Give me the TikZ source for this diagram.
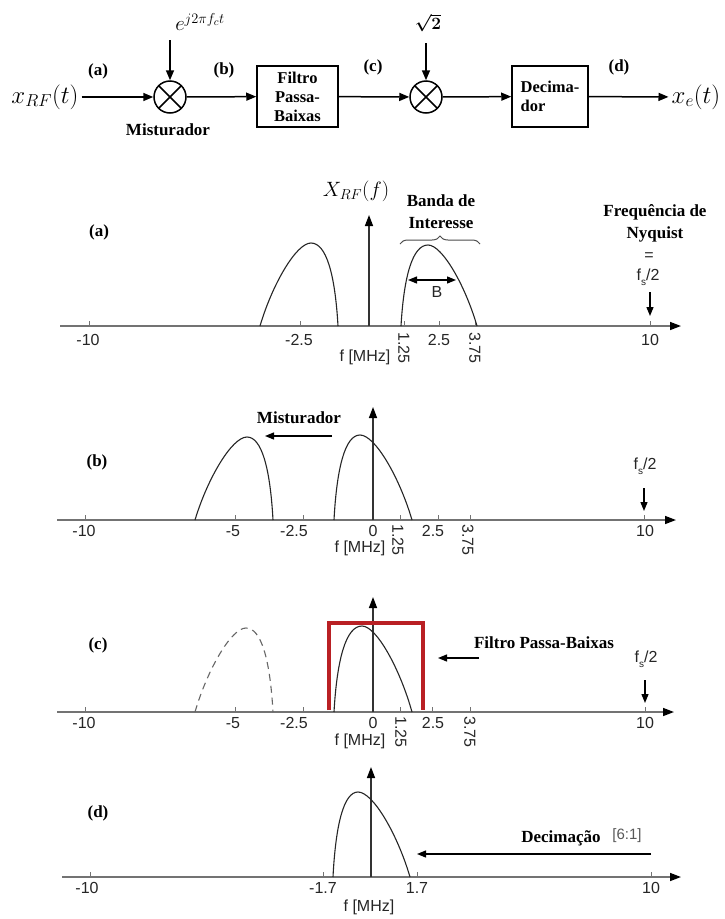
\documentclass[tikz,border=0pt]{standalone}
\usepackage{fontspec}
\setmainfont{Liberation Serif}
\newfontfamily\arialf{Liberation Sans}
\usetikzlibrary{arrows.meta,decorations.pathreplacing}
\definecolor{filtred}{RGB}{185,32,36}
\tikzset{
  lbl/.style={font=\fontsize{17}{22}\selectfont\bfseries, inner sep=0pt},
  blk/.style={draw, line width=1.5pt, font=\fontsize{16.5}{19}\selectfont\bfseries, inner sep=2pt},
  mix/.style={circle, draw, line width=1.5pt, minimum size=32pt, inner sep=0pt,
    path picture={\draw[line width=1.5pt] (path picture bounding box.south west) -- (path picture bounding box.north east)
      (path picture bounding box.north west) -- (path picture bounding box.south east);}},
  sig/.style={line width=1.5pt, -{Triangle[length=10pt,width=8pt]}},
  mathbig/.style={font=\fontsize{24}{24}\selectfont, inner sep=3pt},
  tk/.style={font=\arialf\fontsize{16}{18}\selectfont, text=black!85, inner sep=0pt},
  axis/.style={draw=black!55, line width=1.5pt, -{Triangle[length=11pt,width=8pt,color=black]}},
  vax/.style={draw=black!80, line width=1.4pt, -{Triangle[length=11pt,width=8pt,color=black]}},
  tick/.style={draw=black!55, line width=1pt},
  spec/.style={draw=black!85, line width=1.1pt},
  pt/.style={line width=1.3pt, -{Triangle[length=9pt,width=7pt]}},
  lobeR/.style n args={5}{insert path={(#1,#4) .. controls ({#1+0.11*(#2-#1)},{#4-0.63*(#4-#5)}) and ({#1+0.44*(#2-#1)},#5) .. (#2,#5) .. controls ({#2+0.29*(#3-#2)},#5) and ({#2+0.76*(#3-#2)},{#4-0.5*(#4-#5)}) .. (#3,#4)}},
  lobeL/.style n args={5}{insert path={(#1,#4) .. controls ({#1+0.24*(#2-#1)},{#4-0.5*(#4-#5)}) and ({#1+0.71*(#2-#1)},#5) .. (#2,#5) .. controls ({#2+0.56*(#3-#2)},#5) and ({#2+0.89*(#3-#2)},{#4-0.63*(#4-#5)}) .. (#3,#4)}},
}
\newcommand\fsfrac{f\raisebox{-5pt}{\fontsize{10}{10}\selectfont s}/2}
\begin{document}
\begin{tikzpicture}[x=1pt,y=-1pt]
\useasboundingbox[fill=white] (0,0) rectangle (724,919);

% ---------------- block diagram ----------------
\node[mathbig] (xin) at (45,97) {$x_{RF}(t)$};
\node[mix] (m1) at (170,97) {};
\node[mathbig, font=\fontsize{22}{22}\selectfont] (osc) at (200,22) {$e^{j2\pi f_c t}$};
\coordinate (oscs) at (170,40);
\node[blk, minimum width=81pt, minimum height=61pt, align=center] (lpf) at (297.5,96.5) {Filtro\\Passa-\\Baixas};
\node[mix] (m2) at (426,97) {};
\node[font=\fontsize{18}{18}\selectfont\boldmath] (sq) at (428,23) {$\sqrt{2}$};
\coordinate (sqs) at (426,43);
\node[blk, minimum width=76pt, minimum height=61pt, align=left] (dec) at (550,96.5) {Decima-\\dor};
\node[mathbig] (xout) at (696,97) {$x_e(t)$};

\draw[sig] (xin) -- (m1);
\draw[sig] (oscs) -- (m1);
\draw[sig] (m1) -- (lpf);
\draw[sig] (lpf) -- (m2);
\draw[sig] (sqs) -- (m2);
\draw[sig] (m2) -- (dec);
\draw[sig] (dec) -- (xout);

\node[lbl] (la) at (98,71) {(a)};
\node[lbl] (lb) at (224,70) {(b)};
\node[lbl] (lc) at (373,67) {(c)};
\node[lbl] (ld) at (619,67) {(d)};
\node[lbl] (mixl) at (168,130) {Misturador};

% ---------------- panel (a) ----------------
\draw[axis] (60,326) -- (681,326);
\foreach \x in {89,300,404,439,475,650} \draw[tick] (\x,326) -- (\x,321);
\draw[vax] (369,326) -- (369,215);
\node[font=\fontsize{22}{22}\selectfont] (XRF) at (356,191) {$X_{RF}(f)$};
\draw[spec, lobeL={260}{311}{338}{326}{243}];
\draw[spec, lobeR={401}{428}{477}{326}{245}];
\draw[line width=1.3pt, {Triangle[length=9pt,width=7pt]}-{Triangle[length=9pt,width=7pt]}] (408,280) -- (456,280);
\node[tk] (B) at (437,292) {B};
\draw[decorate, decoration={brace, amplitude=8pt}, draw=black!70, line width=1pt] (400,244) -- (480,244);
\node[lbl, align=center] (band) at (441,212) {Banda de\\Interesse};
\node[lbl, align=center] (nyq) at (655,223) {Frequência de\\Nyquist};
\node[tk] (eq) at (649,257) {=};
\node[tk] (fsa) at (648,277) {\fsfrac};
\draw[pt] (650,292) -- (650,316);
\node[lbl] (pa) at (99,232) {(a)};
\node[tk] at (88,340) {-10};
\node[tk] at (299,340) {-2.5};
\node[tk] at (439,340) {2.5};
\node[tk] at (650,340) {10};
\node[tk, rotate=-90] at (404,348) {1.25};
\node[tk, rotate=-90] at (475,348) {3.75};
\node[tk] (fa) at (365,357) {f [MHz]};

% ---------------- panel (b) ----------------
\draw[axis] (57,520) -- (676,520);
\foreach \x in {85,235,303,400,438,470,644} \draw[tick] (\x,520) -- (\x,515);
\draw[vax] (373,520) -- (373,407);
\draw[spec, lobeL={195}{247}{273}{520}{437}];
\draw[spec, lobeR={334}{360}{412}{520}{435}];
\node[lbl] (mb) at (299,418) {Misturador};
\draw[pt] (332,436) -- (265,436);
\node[lbl] (pb) at (97,462) {(b)};
\node[tk] (fsb) at (645,466) {\fsfrac};
\draw[pt] (644,488) -- (644,511);
\node[tk] at (84,531) {-10};
\node[tk] at (233,531) {-5};
\node[tk] at (294,531) {-2.5};
\node[tk] at (373,531) {0};
\node[tk] at (433,531) {2.5};
\node[tk] at (645,531) {10};
\node[tk, rotate=-90] at (398,540) {1.25};
\node[tk, rotate=-90] at (468,540) {3.75};
\node[tk] (fb) at (360,548) {f [MHz]};

% ---------------- panel (c) ----------------
\draw[axis] (57,712) -- (674,712);
\foreach \x in {85,235,303,400,432,470,645} \draw[tick] (\x,712) -- (\x,707);
\draw[vax] (373,712) -- (373,597);
\draw[spec, draw=black!60, dashed, dash pattern=on 7pt off 5pt, lobeL={195}{246}{273}{712}{628}];
\draw[spec, lobeR={334}{362}{412}{712}{626}];
\draw[filtred, line width=4pt] (329,710) -- (329,623) -- (423,623) -- (423,710);
\node[lbl] (fpb) at (544,643) {Filtro Passa-Baixas};
\draw[pt] (479,658) -- (438,658);
\node[lbl] (pc) at (98,645) {(c)};
\node[tk] (fsc) at (646,659) {\fsfrac};
\draw[pt] (645,680) -- (645,703);
\node[tk] at (84,723) {-10};
\node[tk] at (233,723) {-5};
\node[tk] at (294,723) {-2.5};
\node[tk] at (373,723) {0};
\node[tk] at (433,723) {2.5};
\node[tk] at (645,723) {10};
\node[tk, rotate=-90] at (401,732) {1.25};
\node[tk, rotate=-90] at (470,732) {3.75};
\node[tk] (fc) at (360,741) {f [MHz]};

% ---------------- panel (d) ----------------
\draw[axis] (62,877) -- (681,877);
\foreach \x in {90,323,417,651} \draw[tick] (\x,877) -- (\x,872);
\draw[vax] (371,877) -- (371,767);
\draw[spec, lobeR={333}{358}{410}{877}{792}];
\node[lbl] (pd) at (98,813) {(d)};
\node[lbl] (dcm) at (561,838) {Decimação};
\node[tk, font=\arialf\fontsize{15}{16}\selectfont, text=black!65] (rat) at (627,836) {[6:1]};
\draw[pt] (651,854) -- (417,854);
\node[tk] at (87,888) {-10};
\node[tk] at (323,888) {-1.7};
\node[tk] at (417,888) {1.7};
\node[tk] at (651,888) {10};
\node[tk] (fd) at (369,907) {f [MHz]};
\end{tikzpicture}
\end{document}
